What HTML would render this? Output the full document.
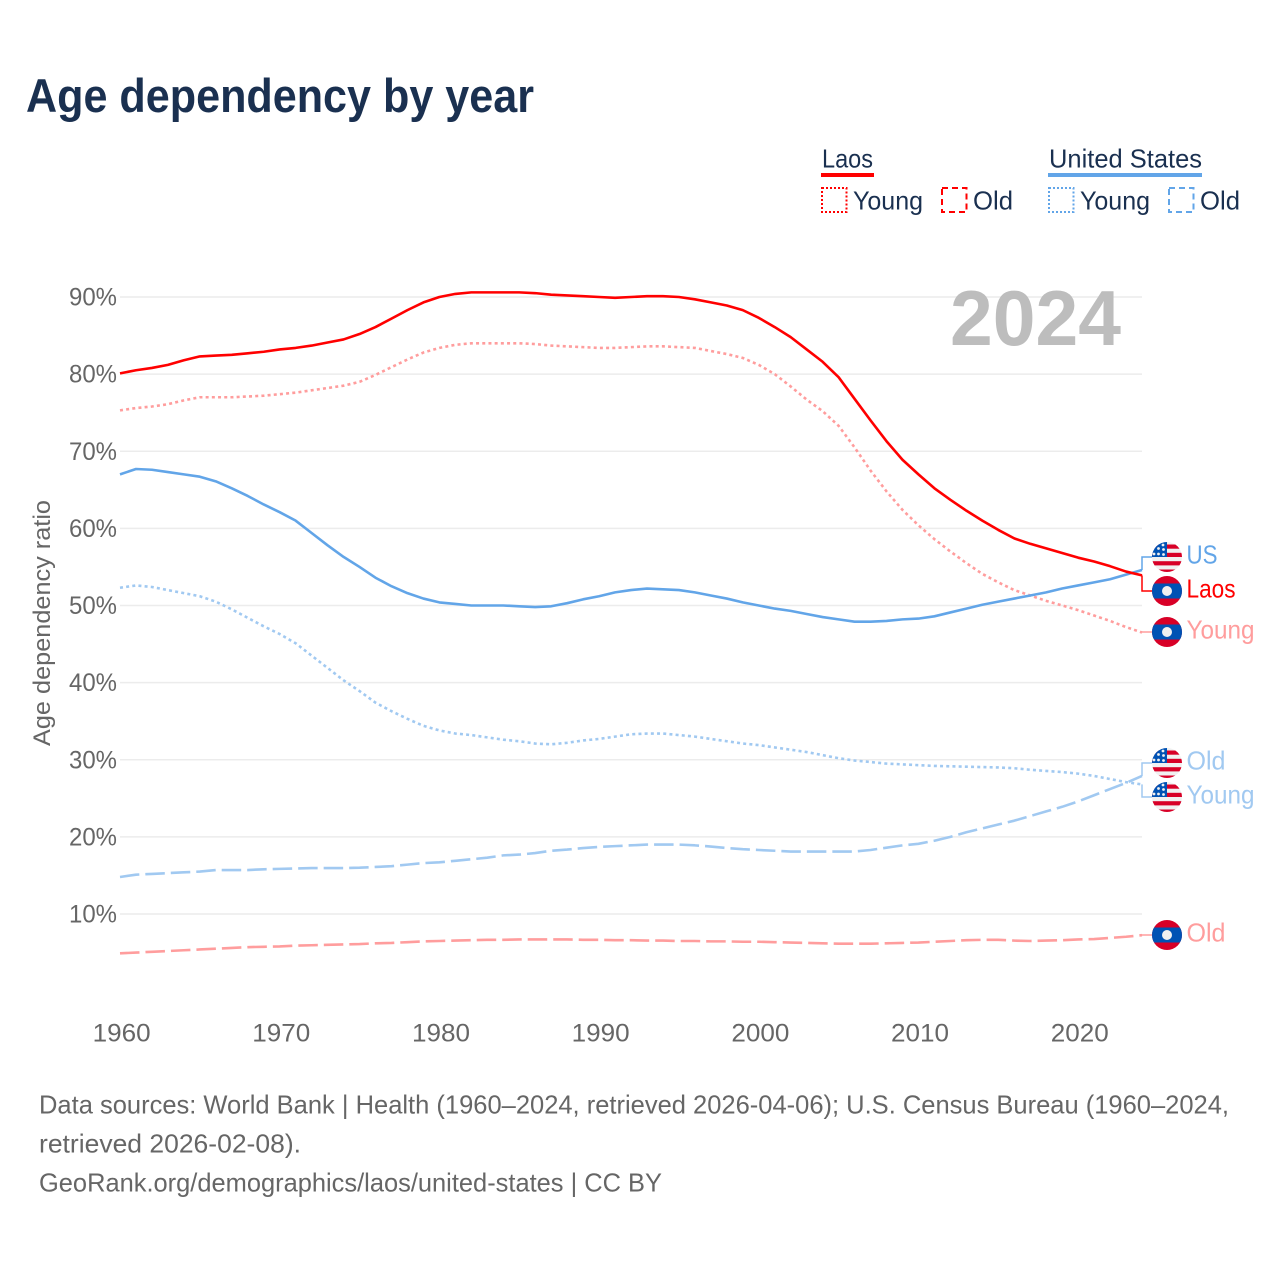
<!DOCTYPE html>
<html lang="en">
<head>
<meta charset="utf-8">
<title>Age dependency by year</title>
<style>
html,body{margin:0;padding:0;background:#fff;}
svg{display:block;font-family:"Liberation Sans",Arial,sans-serif;}
</style>
</head>
<body>
<svg id="chart" width="1280" height="1280" viewBox="0 0 1280 1280" xmlns="http://www.w3.org/2000/svg">
<defs>
<clipPath id="flag-clip"><circle cx="0" cy="0" r="15"/></clipPath>
<g id="flag-us" clip-path="url(#flag-clip)">
<rect x="-15" y="-15" width="30" height="30" fill="#f0f0f0"/>
<rect x="-15" y="-12.5" width="30" height="4.2" fill="#d80027"/>
<rect x="-15" y="-4.2" width="30" height="4.2" fill="#d80027"/>
<rect x="-15" y="4.2" width="30" height="4.2" fill="#d80027"/>
<rect x="-15" y="12.5" width="30" height="3" fill="#d80027"/>
<rect x="-15" y="-15" width="15" height="15" fill="#0052b4"/>
<g fill="#f0f0f0">
<circle cx="-4" cy="-12" r="1.4"/><circle cx="-8.5" cy="-8.5" r="1.4"/><circle cx="-3.5" cy="-7.5" r="1.4"/>
<circle cx="-8.5" cy="-3" r="1.4"/><circle cx="-3.5" cy="-2.5" r="1.4"/><circle cx="-13" cy="-3" r="1.4"/>
</g>
</g>
<g id="flag-laos" clip-path="url(#flag-clip)">
<rect x="-15" y="-15" width="30" height="30" fill="#d80027"/>
<rect x="-15" y="-7.5" width="30" height="15" fill="#0052b4"/>
<circle cx="0" cy="0" r="5" fill="#f0f0f0"/>
</g>
</defs>

<text x="26" y="112" font-size="47" font-weight="700" fill="#1a3050" textLength="508" lengthAdjust="spacingAndGlyphs">Age dependency by year</text>

<g font-size="26" fill="#1a3050">
<g>
<text x="822" y="167.5" textLength="51" lengthAdjust="spacingAndGlyphs">Laos</text>
<rect x="821" y="173" width="53" height="4" fill="#ff0000"/>
<rect x="822" y="188" width="24.5" height="24" fill="none" stroke="#ff0000" stroke-width="2" stroke-dasharray="2 2"/>
<text x="853" y="209.5" textLength="70" lengthAdjust="spacingAndGlyphs">Young</text>
<rect x="942" y="188" width="24.5" height="24" fill="none" stroke="#ff0000" stroke-width="2" stroke-dasharray="6 4"/>
<text x="973" y="209.5" textLength="40" lengthAdjust="spacingAndGlyphs">Old</text>
</g>
<g>
<text x="1049" y="167.5" textLength="153" lengthAdjust="spacingAndGlyphs">United States</text>
<rect x="1048" y="173" width="154" height="4" fill="#62a5e8"/>
<rect x="1049" y="188" width="24.5" height="24" fill="none" stroke="#62a5e8" stroke-width="2" stroke-dasharray="2 2"/>
<text x="1080" y="209.5" textLength="70" lengthAdjust="spacingAndGlyphs">Young</text>
<rect x="1169" y="188" width="24.5" height="24" fill="none" stroke="#62a5e8" stroke-width="2" stroke-dasharray="6 4"/>
<text x="1200" y="209.5" textLength="40" lengthAdjust="spacingAndGlyphs">Old</text>
</g>
</g>

<g id="grid"></g>
<g id="y-ticks"></g>
<g id="x-ticks"></g>

<text transform="translate(50,623) rotate(-90)" text-anchor="middle" font-size="24" fill="#666666" textLength="246" lengthAdjust="spacingAndGlyphs">Age dependency ratio</text>

<text x="950" y="345" font-size="78" font-weight="700" fill="#bdbdbd" textLength="171" lengthAdjust="spacingAndGlyphs">2024</text>

<g id="series"></g>
<g id="end-labels"></g>

<g font-size="26" fill="#666666">
<text x="39" y="1113.5" textLength="1190" lengthAdjust="spacingAndGlyphs">Data sources: World Bank | Health (1960–2024, retrieved 2026-04-06); U.S. Census Bureau (1960–2024,</text>
<text x="39" y="1152.5" textLength="262" lengthAdjust="spacingAndGlyphs">retrieved 2026-02-08).</text>
<text x="39" y="1191.5" textLength="623" lengthAdjust="spacingAndGlyphs">GeoRank.org/demographics/laos/united-states | CC BY</text>
</g>
</svg>

<script>
var startYear = 1960;
var yTickValues = [10, 20, 30, 40, 50, 60, 70, 80, 90];
var xTickValues = [1960, 1970, 1980, 1990, 2000, 2010, 2020];

var laosTotal = [80.1,80.5,80.8,81.2,81.8,82.3,82.4,82.5,82.7,82.9,83.2,83.4,83.7,84.1,84.5,85.2,86.1,87.2,88.3,89.3,90.0,90.4,90.6,90.6,90.6,90.6,90.5,90.3,90.2,90.1,90.0,89.9,90.0,90.1,90.1,90.0,89.7,89.3,88.9,88.3,87.3,86.1,84.8,83.2,81.6,79.6,76.8,74.0,71.3,68.9,67.0,65.2,63.7,62.3,61.0,59.8,58.7,58.0,57.4,56.8,56.2,55.7,55.1,54.4,53.9];
var laosYoung = [75.3,75.6,75.8,76.1,76.6,77.0,77.0,77.0,77.1,77.2,77.4,77.6,77.9,78.2,78.5,79.0,79.9,80.9,81.9,82.8,83.4,83.8,84.0,84.0,84.0,84.0,83.9,83.7,83.6,83.5,83.4,83.4,83.5,83.6,83.6,83.5,83.4,83.0,82.6,82.1,81.2,80.0,78.4,76.7,75.2,73.3,70.5,67.5,64.8,62.4,60.4,58.6,57.0,55.5,54.1,53.0,52.0,51.3,50.6,50.0,49.4,48.7,48.0,47.2,46.5];
var laosOld = [4.9,5.0,5.1,5.2,5.3,5.4,5.5,5.6,5.7,5.75,5.8,5.9,5.95,6.0,6.05,6.1,6.2,6.25,6.35,6.45,6.5,6.55,6.6,6.65,6.65,6.7,6.7,6.7,6.7,6.65,6.65,6.6,6.6,6.55,6.55,6.5,6.5,6.45,6.45,6.4,6.4,6.35,6.3,6.25,6.2,6.15,6.15,6.15,6.2,6.25,6.3,6.4,6.5,6.6,6.65,6.65,6.55,6.5,6.55,6.6,6.7,6.75,6.9,7.05,7.25];
var usTotal = [67.0,67.7,67.6,67.3,67.0,66.7,66.1,65.2,64.2,63.1,62.1,61.0,59.4,57.8,56.3,55.0,53.6,52.5,51.6,50.9,50.4,50.2,50.0,50.0,50.0,49.9,49.8,49.9,50.3,50.8,51.2,51.7,52.0,52.2,52.1,52.0,51.7,51.3,50.9,50.4,50.0,49.6,49.3,48.9,48.5,48.2,47.9,47.9,48.0,48.2,48.3,48.6,49.1,49.6,50.1,50.5,50.9,51.3,51.7,52.2,52.6,53.0,53.4,54.0,54.6];
var usYoung = [52.3,52.6,52.4,52.0,51.6,51.2,50.5,49.5,48.4,47.3,46.3,45.1,43.5,41.9,40.3,38.9,37.4,36.3,35.3,34.4,33.8,33.4,33.2,32.9,32.6,32.4,32.1,32.0,32.2,32.5,32.7,33.0,33.3,33.4,33.4,33.2,33.0,32.7,32.4,32.1,31.9,31.6,31.3,31.0,30.6,30.2,29.9,29.7,29.5,29.4,29.3,29.2,29.15,29.1,29.05,29.0,28.9,28.7,28.55,28.4,28.2,27.9,27.5,27.1,26.8];
var usOld = [14.8,15.1,15.2,15.3,15.4,15.5,15.7,15.7,15.7,15.8,15.85,15.9,15.95,15.95,15.95,16.0,16.1,16.2,16.4,16.6,16.7,16.9,17.1,17.3,17.6,17.7,17.9,18.2,18.35,18.55,18.7,18.8,18.9,19.0,19.0,19.0,18.9,18.75,18.55,18.4,18.3,18.2,18.1,18.1,18.1,18.1,18.1,18.3,18.6,18.9,19.1,19.5,20.0,20.6,21.1,21.6,22.1,22.7,23.3,23.9,24.6,25.4,26.2,27.0,27.9];

var NS = 'http://www.w3.org/2000/svg';
function xScale(year) { return 120 + (year - 1960) * (1022 / 64); }
function yScale(v) { return 914 - (v - 10) * 7.7125; }
function make(tag, attrs, parent) {
  var el = document.createElementNS(NS, tag);
  for (var k in attrs) el.setAttribute(k, attrs[k]);
  parent.appendChild(el);
  return el;
}

var grid = document.getElementById('grid');
var yTicks = document.getElementById('y-ticks');
var xTicks = document.getElementById('x-ticks');
yTickValues.forEach(function (v) {
  var line = make('line', {x1: 120, x2: 1142, y1: yScale(v), y2: yScale(v), stroke: '#ececec', 'stroke-width': 1.5}, grid);
  
  
  var t = make('text', {x: 117, y: yScale(v) + 8.5, 'text-anchor': 'end', 'font-size': 25, fill: '#666666', textLength: 48, lengthAdjust: 'spacingAndGlyphs'}, yTicks);
  
  
  t.textContent = v + '%';
});
xTickValues.forEach(function (y) {
  var t = make('text', {x: xScale(y) + 1.6, y: 1041.5, 'text-anchor': 'middle', 'font-size': 25, fill: '#666666', textLength: 58, lengthAdjust: 'spacingAndGlyphs'}, xTicks);
  
  
  t.textContent = y;
});

var seriesGroup = document.getElementById('series');
function drawSeries(values, color, dash, name) {
  var d = values.map(function (v, i) {
    return (i ? 'L' : 'M') + xScale(startYear + i).toFixed(2) + ' ' + yScale(v).toFixed(2);
  }).join(' ');
  var p = make('path', {d: d, fill: 'none', stroke: color, 'stroke-width': 2.6, 'stroke-linejoin': 'round'}, seriesGroup);
  if (dash) p.setAttribute('stroke-dasharray', dash);
  
  
}
var RED = '#ff0000', RED_L = '#ff9d9d', BLUE = '#62a5e8', BLUE_L = '#a1c9f1';
var DOT = '3 3.2', DASH = '19.5 6';
drawSeries(laosOld, RED_L, DASH, 'line-laos-old');
drawSeries(usOld, BLUE_L, DASH, 'line-us-old');
drawSeries(usYoung, BLUE_L, DOT, 'line-us-young');
drawSeries(laosYoung, RED_L, DOT, 'line-laos-young');
drawSeries(usTotal, BLUE, null, 'line-us-total');
drawSeries(laosTotal, RED, null, 'line-laos-total');

var labels = document.getElementById('end-labels');
function endLabel(values, flag, text, width, cy, color) {
  var endX = xScale(startYear + values.length - 1);
  var endY = yScale(values[values.length - 1]);
  var leader = make('path', {d: 'M' + endX + ' ' + endY + ' L' + endX + ' ' + cy + ' L1155 ' + cy, fill: 'none', stroke: color, 'stroke-width': 1.5}, labels);
  
  
  var u = make('use', {href: '#' + flag, x: 1167, y: cy}, labels);
  
  
  var t = make('text', {x: 1186.5, y: cy + 6.5, 'font-size': 26, fill: color, textLength: width, lengthAdjust: 'spacingAndGlyphs'}, labels);
  
  
  t.textContent = text;
}
endLabel(usTotal, 'flag-us', 'US', 31, 557, BLUE);
endLabel(laosTotal, 'flag-laos', 'Laos', 49, 591, RED);
endLabel(laosYoung, 'flag-laos', 'Young', 68, 632, RED_L);
endLabel(usOld, 'flag-us', 'Old', 39, 763, BLUE_L);
endLabel(usYoung, 'flag-us', 'Young', 68, 797, BLUE_L);
endLabel(laosOld, 'flag-laos', 'Old', 39, 935, RED_L);
</script>
</body>
</html>
